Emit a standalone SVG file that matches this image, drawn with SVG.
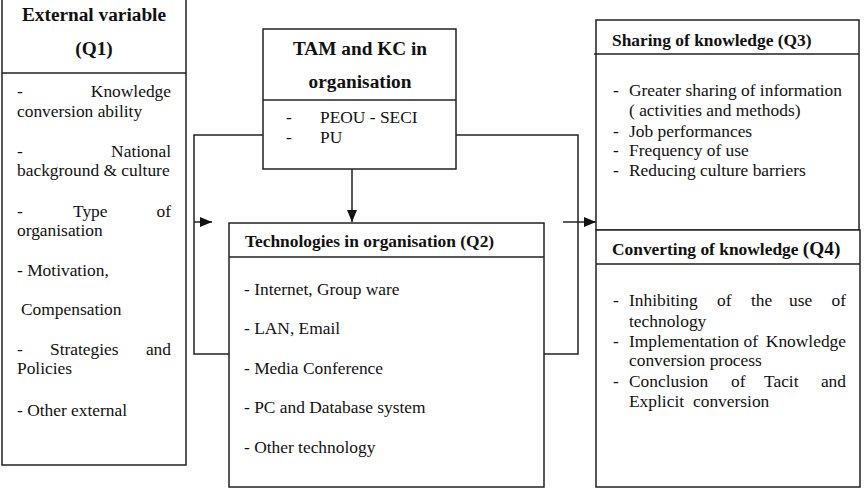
<svg xmlns="http://www.w3.org/2000/svg" width="867" height="488" viewBox="0 0 867 488">
<defs>
<style>
.box{fill:#fff;stroke:#222;stroke-width:1.5}
.ln{fill:none;stroke:#222;stroke-width:1.5}
text{font-family:'Liberation Serif','DejaVu Serif',serif;fill:#111}
.t{font-size:17.4px}
.h{font-size:17.4px;font-weight:bold}
.hb{font-size:19.3px;font-weight:bold}
.e{text-anchor:end}
.m{text-anchor:middle}
</style>
<marker id="arr" viewBox="0 0 12 10" refX="12" refY="5" markerWidth="12" markerHeight="10" markerUnits="userSpaceOnUse" orient="auto">
<path d="M0,0 L12,5 L0,10 Z" fill="#111"/>
</marker>
</defs>
<rect width="867" height="488" fill="#fff"/>

<g id="connectors">
<path class="ln" d="M263,135 H194 V354 H229"/>
<line class="ln" x1="194" y1="222" x2="212" y2="222" marker-end="url(#arr)"/>
<line class="ln" x1="352" y1="169" x2="352" y2="222" marker-end="url(#arr)"/>
<path class="ln" d="M456,135 H578 V354 H544"/>
<line class="ln" x1="563" y1="222" x2="596" y2="222" marker-end="url(#arr)"/>
</g>

<g id="external-variable" font-family="Liberation Serif, serif">
<rect class="box" x="2" y="-2" width="184" height="467"/>
<line class="ln" x1="2" y1="73" x2="186" y2="73"/>
<text class="hb m" x="94" y="21">External variable</text>
<text class="hb m" x="94" y="55">(Q1)</text>
<text class="t" x="17" y="97">-</text><text class="t e" x="171" y="97">Knowledge</text>
<text class="t" x="17" y="117">conversion ability</text>
<text class="t" x="17" y="157">-</text><text class="t e" x="171" y="157">National</text>
<text class="t" x="17" y="176">background &amp; culture</text>
<text class="t" x="17" y="217">-</text><text class="t" x="73" y="217">Type</text><text class="t e" x="171" y="217">of</text>
<text class="t" x="17" y="236">organisation</text>
<text class="t" x="17" y="276">- Motivation,</text>
<text class="t" x="21" y="315">Compensation</text>
<text class="t" x="17" y="355">-</text><text class="t" x="50" y="355">Strategies</text><text class="t e" x="171" y="355">and</text>
<text class="t" x="17" y="374">Policies</text>
<text class="t" x="17" y="416">- Other external</text>
</g>

<g id="tam-kc">
<rect class="box" x="263" y="29" width="193" height="140"/>
<line class="ln" x1="263" y1="100" x2="456" y2="100"/>
<text class="hb m" x="360" y="55">TAM and KC in</text>
<text class="hb m" x="360" y="88">organisation</text>
<text class="t" x="286" y="123">-</text><text class="t" x="320" y="123">PEOU - SECI</text>
<text class="t" x="286" y="143">-</text><text class="t" x="320" y="143">PU</text>
</g>

<g id="technologies">
<rect class="box" x="229" y="223" width="315" height="264"/>
<line class="ln" x1="229" y1="257" x2="544" y2="257"/>
<text class="h" x="245" y="247">Technologies in organisation (Q2)</text>
<text class="t" x="244" y="295">- Internet, Group ware</text>
<text class="t" x="244" y="334">- LAN, Email</text>
<text class="t" x="244" y="374">- Media Conference</text>
<text class="t" x="244" y="413">- PC and Database system</text>
<text class="t" x="244" y="453">- Other technology</text>
</g>

<g id="sharing">
<rect class="box" x="596" y="20" width="263" height="210"/>
<line class="ln" x1="594" y1="54" x2="859" y2="54"/>
<text class="h" x="612" y="46">Sharing of knowledge (Q3)</text>
<text class="t" x="613" y="96">-</text><text class="t" x="629" y="96">Greater sharing of information</text>
<text class="t" x="629" y="116">( activities and methods)</text>
<text class="t" x="613" y="137">-</text><text class="t" x="629" y="137">Job performances</text>
<text class="t" x="613" y="156">-</text><text class="t" x="629" y="156">Frequency of use</text>
<text class="t" x="613" y="176">-</text><text class="t" x="629" y="176">Reducing culture barriers</text>
</g>

<g id="converting">
<rect class="box" x="596" y="230" width="264" height="257"/>
<line class="ln" x1="596" y1="264" x2="860" y2="264"/>
<text class="h" x="612" y="255">Converting of knowledge <tspan style="font-size:19.3px">(Q4)</tspan></text>
<text class="t" x="613" y="306">-</text><text class="t" x="629" y="306">Inhibiting</text><text class="t" x="717" y="306">of</text><text class="t" x="751" y="306">the</text><text class="t" x="789" y="306">use</text><text class="t e" x="846" y="306">of</text>
<text class="t" x="629" y="327">technology</text>
<text class="t" x="613" y="347">-</text><text class="t" x="629" y="347">Implementation of</text><text class="t e" x="846" y="347">Knowledge</text>
<text class="t" x="629" y="366">conversion process</text>
<text class="t" x="613" y="387">-</text><text class="t" x="629" y="387">Conclusion</text><text class="t" x="731" y="387">of</text><text class="t" x="764" y="387">Tacit</text><text class="t e" x="846" y="387">and</text>
<text class="t" x="629" y="407">Explicit</text><text class="t" x="693" y="407">conversion</text>
</g>
</svg>
